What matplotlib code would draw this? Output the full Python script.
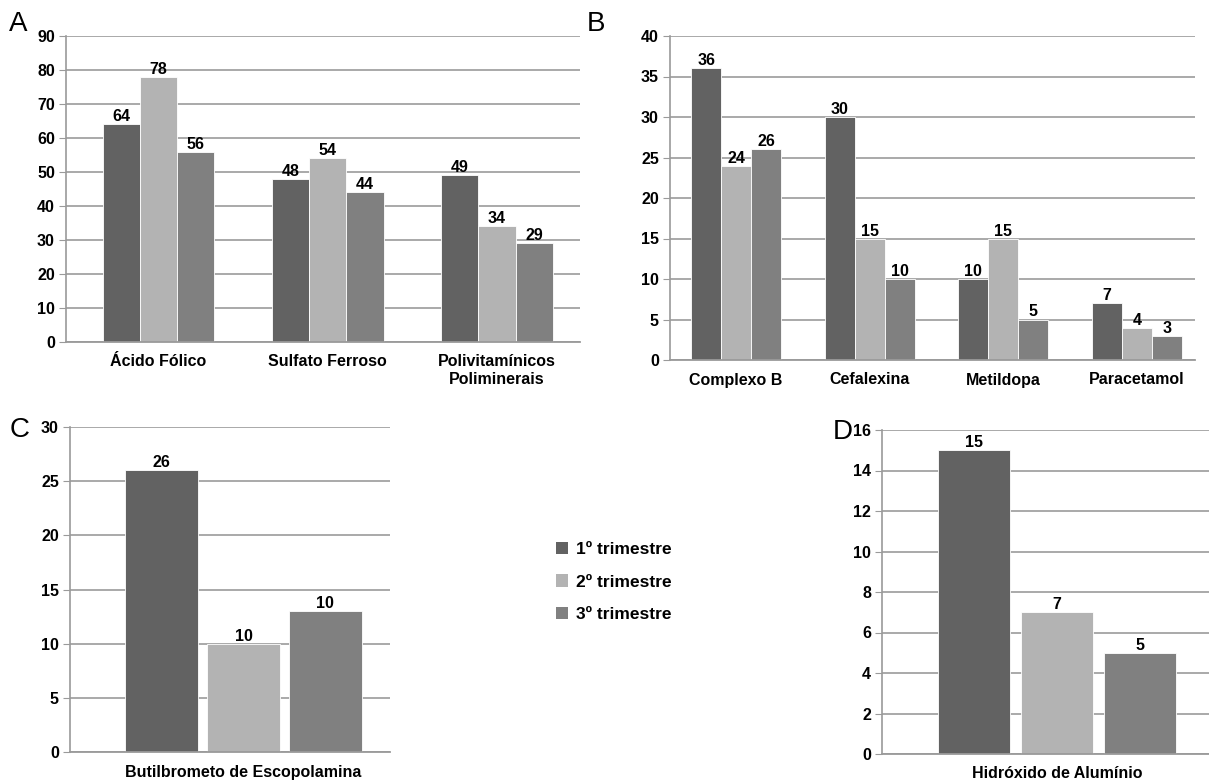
import matplotlib
matplotlib.use("Agg")
import matplotlib.pyplot as plt
from matplotlib.patches import Patch
import numpy as np

plt.rcParams['font.family'] = ['Liberation Sans', 'DejaVu Sans']

# ---- data ----
series_names = ["1º trimestre", "2º trimestre", "3º trimestre"]
colors = ["#626262", "#b3b3b3", "#808080"]

a_categories = ["Ácido Fólico", "Sulfato Ferroso", "Polivitamínicos\nPoliminerais"]
a_t1 = [64, 48, 49]
a_t2 = [78, 54, 34]
a_t3 = [56, 44, 29]

b_categories = ["Complexo B", "Cefalexina", "Metildopa", "Paracetamol"]
b_t1 = [36, 30, 10, 7]
b_t2 = [24, 15, 15, 4]
b_t3 = [26, 10, 5, 3]

c_category = "Butilbrometo de Escopolamina"
c_values = [26, 10, 13]
c_labels = ["26", "10", "10"]

d_category = "Hidróxido de Alumínio"
d_values = [15, 7, 5]
d_labels = ["15", "7", "5"]

W, H = 1209, 780
fig = plt.figure(figsize=(W / 100, H / 100), dpi=100)


def px_axes(left, right, top, bottom):
    return fig.add_axes([left / W, 1 - bottom / H, (right - left) / W, (bottom - top) / H])


def style(ax, ymax, ystep):
    ax.set_ylim(0, ymax)
    ax.set_yticks(np.arange(0, ymax + ystep / 2, ystep))
    ax.yaxis.grid(True, color="#a3a3a3", lw=1.3)
    ax.set_axisbelow(True)
    for s in ["top", "right"]:
        ax.spines[s].set_visible(False)
    ax.spines["left"].set_color("#9a9a9a")
    ax.spines["bottom"].set_color("#9a9a9a")
    ax.spines["left"].set_linewidth(1.2)
    ax.spines["bottom"].set_linewidth(1.3)
    ax.tick_params(axis="y", length=5, color="#9a9a9a", labelsize=11.5, pad=3)
    ax.tick_params(axis="x", length=0, labelsize=11.5, pad=9)
    for lbl in ax.get_yticklabels() + ax.get_xticklabels():
        lbl.set_fontweight("bold")


def grouped(ax, cats, series, width, labels=None, gap=0.0):
    x = np.arange(len(cats))
    for i, vals in enumerate(series):
        offs = (i - 1) * (width + gap)
        bars = ax.bar(x + offs, vals, width, color=colors[i], edgecolor="white", linewidth=0.6)
        labs = labels[i] if labels is not None else [str(v) for v in vals]
        for b, t in zip(bars, labs):
            ax.text(b.get_x() + b.get_width() / 2, b.get_height(), t, ha="center", va="bottom",
                    fontsize=11.5, fontweight="bold")
    ax.set_xticks(x)
    ax.set_xticklabels(cats)


# Panel A
axA = px_axes(66, 580, 36, 342)
grouped(axA, a_categories, [a_t1, a_t2, a_t3], 0.22)
axA.set_xlim(-0.547, 2.49)
style(axA, 90, 10)

# Panel B
axB = px_axes(670, 1195, 36, 360)
grouped(axB, b_categories, [b_t1, b_t2, b_t3], 0.224)
axB.set_xlim(-0.494, 3.434)
style(axB, 40, 5)

# Panel C
axC = px_axes(70, 390, 427, 752)
grouped(axC, [c_category], [[v] for v in c_values], 0.228, labels=[[l] for l in c_labels], gap=0.028)
axC.set_xlim(-0.542, 0.458)
style(axC, 30, 5)

# Panel D
axD = px_axes(882, 1209, 430, 754)
grouped(axD, [d_category], [[v] for v in d_values], 0.22, labels=[[l] for l in d_labels], gap=0.035)
axD.set_xlim(-0.535, 0.465)
style(axD, 16, 2)

# Panel letters
for letter, (x, y) in {"A": (18, 24), "B": (596, 24), "C": (20, 430), "D": (843, 432)}.items():
    fig.text(x / W, 1 - y / H, letter, fontsize=20, ha="center", va="center")

# Legend
handles = [Patch(facecolor=c, edgecolor="none") for c in colors]
fig.legend(handles, series_names, loc="center left", bbox_to_anchor=(540 / W, 1 - 582 / H),
           frameon=False, handlelength=0.7, handleheight=0.7, handletextpad=0.5,
           labelspacing=1.0, prop={"size": 12.5, "weight": "bold"})

fig.savefig("out.png", dpi=100)
